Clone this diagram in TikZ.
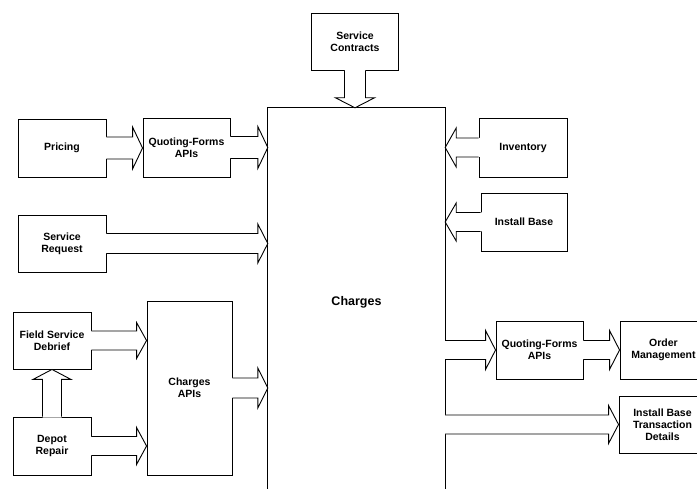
\documentclass[tikz,border=0pt]{standalone}
\usepackage{fontspec}
\setmainfont{Liberation Sans}
\usetikzlibrary{calc}
\tikzset{
  box/.style={draw, line width=0.9pt, inner sep=0pt, align=center,
    font=\bfseries\fontsize{10.5}{12}\selectfont},
  arr/.style={line width=0.9pt, line join=miter},
}
\newcommand\blockarr[5]{%
  \coordinate (baS) at (#1);
  \coordinate (baT) at (#2);
  \coordinate (baB) at ($(baT)!#5!(baS)$);
  \coordinate (baS0) at ($(baS)!-1.2pt!(baT)$);
  \coordinate (baA1) at ($(baS0)!#3!90:(baT)$);
  \coordinate (baA2) at ($(baS0)!#3!-90:(baT)$);
  \coordinate (baP1) at ($(baS)!#3!90:(baT)$);
  \coordinate (baP2) at ($(baS)!#3!-90:(baT)$);
  \coordinate (baB1) at ($(baB)!#3!-90:(baS)$);
  \coordinate (baB2) at ($(baB)!#3!90:(baS)$);
  \coordinate (baC1) at ($(baB)!#4!-90:(baS)$);
  \coordinate (baC2) at ($(baB)!#4!90:(baS)$);
  \fill[white] (baA1) -- (baB1) -- (baC1) -- (baT) -- (baC2) -- (baB2) -- (baA2) -- cycle;
  \draw[arr] (baP1) -- (baB1) -- (baC1) -- (baT) -- (baC2) -- (baB2) -- (baP2);
}
\begin{document}
\begin{tikzpicture}[x=1pt,y=-1pt]
\useasboundingbox (0,0) rectangle (697,489);
\clip (0,0) rectangle (697,489);
% boxes
\node[box, minimum width=88pt, minimum height=58pt] (pricing) at (62,148) {Pricing};
\node[box, minimum width=87pt, minimum height=59pt] (qf1) at (186.5,147.5) {Quoting-Forms\\APIs};
\node[box, minimum width=88pt, minimum height=57pt] (sr) at (62,243.5) {Service\\Request};
\node[box, minimum width=78pt, minimum height=57pt] (fsd) at (52,340.5) {Field Service\\Debrief};
\node[box, minimum width=85pt, minimum height=174pt] (capis) at (189.5,388) {Charges\\APIs};
\node[box, minimum width=78pt, minimum height=58pt] (depot) at (52,446) {Depot\\Repair};
\node[box, minimum width=87pt, minimum height=57pt] (sc) at (355,41.5) {Service\\Contracts};
\node[box, minimum width=88pt, minimum height=59pt] (inv) at (523,147.5) {Inventory};
\node[box, minimum width=86pt, minimum height=58pt] (ib) at (524,222) {Install Base};
\node[box, minimum width=87pt, minimum height=58pt] (qf2) at (539.5,350) {Quoting-Forms\\APIs};
\node[box, minimum width=87pt, minimum height=58pt] (om) at (663.5,350) {Order\\Management};
\node[box, minimum width=87pt, minimum height=57pt] (ibtd) at (662.5,424.5) {Install Base\\Transaction\\Details};
% charges area (open at the bottom)
\node[inner sep=0pt, minimum width=177pt, minimum height=388pt,
      font=\bfseries\fontsize{12.5}{14}\selectfont] (charges) at (356.5,302) {Charges};
\coordinate (pagebottom) at (0,489);
\draw[arr] (charges.north west |- pagebottom) -- (charges.north west)
  -- (charges.north east) -- (charges.north east |- pagebottom);
% block arrows
\blockarr{pricing.east}{pricing.east -| qf1.west}{11pt}{21pt}{10pt}
\blockarr{qf1.east}{qf1.east -| charges.west}{11pt}{21pt}{10pt}
\blockarr{sr.east}{sr.east -| charges.west}{10pt}{19.5pt}{10pt}
\blockarr{fsd.east}{fsd.east -| capis.west}{9.5pt}{18pt}{10pt}
\blockarr{depot.east}{depot.east -| capis.west}{9.5pt}{18.5pt}{10pt}
\blockarr{capis.east}{capis.east -| charges.west}{10pt}{20pt}{10pt}
\blockarr{depot.north}{depot.north |- fsd.south}{9.5pt}{19pt}{10pt}
\blockarr{sc.south}{sc.south |- charges.north}{10.5pt}{19.5pt}{10pt}
\blockarr{inv.west}{inv.west -| charges.east}{9.5pt}{19.5pt}{11pt}
\blockarr{ib.west}{ib.west -| charges.east}{9.5pt}{19pt}{11pt}
\blockarr{qf2.west -| charges.east}{qf2.west}{9.5pt}{19.5pt}{10pt}
\blockarr{qf2.east}{qf2.east -| om.west}{9.5pt}{19.5pt}{10pt}
\blockarr{ibtd.west -| charges.east}{ibtd.west}{9.5pt}{19pt}{10pt}
\end{tikzpicture}
\end{document}
